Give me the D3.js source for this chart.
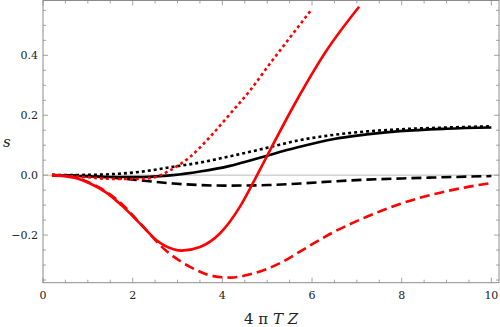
<!DOCTYPE html>
<html><head><meta charset="utf-8">
<script src="https://cdn.jsdelivr.net/npm/d3@7"></script>
<style>body{margin:0;background:#fff}svg{display:block}</style>
</head><body><svg id="c" width="500" height="327"></svg>
<script>
// Data
const blackSolidX = [0.2,1.0,1.5,2.2,2.9,3.5,4.17,4.62,5.0,5.66,6.46,7.22,7.96,9.0,10.0];
const blackSolidY = [0,-0.004,-0.006,-0.006,0.0,0.012,0.031,0.049,0.065,0.092,0.120,0.136,0.147,0.155,0.159];
const blackDottedX = [0.2,1.0,1.5,2.16,2.91,3.5,4.17,5.02,5.66,6.46,7.22,7.96,9.0,10.0];
const blackDottedY = [0,0.001,0.003,0.011,0.028,0.042,0.063,0.092,0.115,0.134,0.146,0.153,0.159,0.163];
const blackDashedX = [0.2,1.0,1.5,2.16,2.91,3.5,4.1,5.02,5.73,6.46,7.22,8.0,8.7,10.0];
const blackDashedY = [0,-0.003,-0.008,-0.017,-0.028,-0.033,-0.035,-0.033,-0.028,-0.021,-0.015,-0.011,-0.008,-0.003];
const redSolidX = [0.2,0.68,1.05,1.42,1.79,2.16,2.53,2.91,3.09,3.5,3.95,4.39,4.74,4.99,5.66,6.32,7.05];
const redSolidY = [0,-0.008,-0.028,-0.059,-0.106,-0.161,-0.217,-0.247,-0.252,-0.240,-0.194,-0.106,-0.01,0.062,0.25,0.415,0.562];
const redDottedX = [0.2,1.0,1.42,2.16,2.53,2.83,3.28,3.72,4.17,4.62,5.0,5.5,5.99];
const redDottedY = [0,-0.007,-0.012,-0.013,-0.005,0.016,0.061,0.127,0.204,0.283,0.360,0.458,0.553];
const redDashedX = [0.2,0.68,1.05,1.42,1.79,2.16,2.76,3.28,3.8,4.17,4.62,5.0,5.36,5.73,6.47,7.22,7.96,8.7,9.45,10.0];
const redDashedY = [0,-0.007,-0.026,-0.056,-0.101,-0.160,-0.254,-0.306,-0.337,-0.342,-0.331,-0.313,-0.288,-0.255,-0.191,-0.139,-0.096,-0.064,-0.040,-0.026];
const xTicks = [0,2,4,6,8,10];
const yTicks = [-0.2,0.0,0.2,0.4];

const FONT = "'DejaVu Serif','Liberation Serif','Times New Roman',serif";
const svg = d3.select("#c");
const x = d3.scaleLinear().domain([0,10.17]).range([43,499]);
const y = d3.scaleLinear().domain([-0.359,0.583]).range([282.7,0.5]);
const axisCol = "#8c8c8c";

// zero line
svg.append("line").attr("x1",x(0)).attr("x2",x(10.17)).attr("y1",y(0)).attr("y2",y(0))
  .attr("stroke","#aaa").attr("stroke-width",0.8);

// frame
svg.append("rect").attr("x",x(0)).attr("y",y(0.583)).attr("width",x(10.17)-x(0)).attr("height",y(-0.359)-y(0.583))
  .attr("fill","none").attr("stroke",axisCol).attr("stroke-width",1);

// ticks
const xMinor = d3.range(0,10.17,0.5);
const yMinor = d3.range(-0.35,0.58,0.05);
function isMajor(v,step){return Math.abs(v/step-Math.round(v/step))<1e-6;}
const tg = svg.append("g").attr("stroke",axisCol).attr("stroke-width",0.8);
xMinor.forEach(v=>{
  const L = isMajor(v,2)?5:3;
  tg.append("line").attr("x1",x(v)).attr("x2",x(v)).attr("y1",y(-0.359)).attr("y2",y(-0.359)-L);
  tg.append("line").attr("x1",x(v)).attr("x2",x(v)).attr("y1",y(0.583)).attr("y2",y(0.583)+L);
});
yMinor.forEach(v=>{
  const L = isMajor(v,0.2)?5:3;
  tg.append("line").attr("x1",x(0)).attr("x2",x(0)+L).attr("y1",y(v)).attr("y2",y(v));
  tg.append("line").attr("x1",x(10.17)).attr("x2",x(10.17)-L).attr("y1",y(v)).attr("y2",y(v));
});

// tick labels
svg.append("g").selectAll("text").data(xTicks).join("text")
  .attr("x",d=>x(d)).attr("y",299).attr("text-anchor","middle").attr("font-size",11).attr("fill","#222")
  .style("font-family",FONT).text(d=>d);
svg.append("g").selectAll("text").data(yTicks).join("text")
  .attr("x",38).attr("y",d=>y(d)+4).attr("text-anchor","end").attr("font-size",11).attr("fill","#222")
  .style("font-family",FONT).text(d=>d3.format(".1f")(d).replace("-","\u2212"));

// axis labels
svg.append("text").attr("x",3).attr("y",147).attr("font-size",15).attr("font-style","italic").attr("fill","#222")
  .style("font-family",FONT).text("s");
const xl = svg.append("text").attr("x",271).attr("y",324).attr("text-anchor","middle").attr("font-size",15).attr("fill","#222")
  .style("font-family",FONT);
xl.append("tspan").text("4 \u03C0 ");
xl.append("tspan").attr("font-style","italic").text("T Z");

// curves
const line = d3.line().x(d=>x(d[0])).y(d=>y(d[1])).curve(d3.curveMonotoneX);
const series = [
  {xs:blackSolidX, ys:blackSolidY, c:"#000", dash:null},
  {xs:blackDottedX, ys:blackDottedY, c:"#000", dash:"3,3"},
  {xs:blackDashedX, ys:blackDashedY, c:"#000", dash:"10,5"},
  {xs:redSolidX, ys:redSolidY, c:"#ff0000", dash:null},
  {xs:redDottedX, ys:redDottedY, c:"#ff0000", dash:"3,3"},
  {xs:redDashedX, ys:redDashedY, c:"#ff0000", dash:"10,5"}
];
const cg = svg.append("g");
series.forEach(s=>{
  cg.append("path").datum(s.xs.map((v,i)=>[v,s.ys[i]]))
    .attr("d",line).attr("fill","none").attr("stroke",s.c).attr("stroke-width",2.6)
    .attr("stroke-dasharray",s.dash).attr("stroke-linecap","butt");
});
</script></body></html>
